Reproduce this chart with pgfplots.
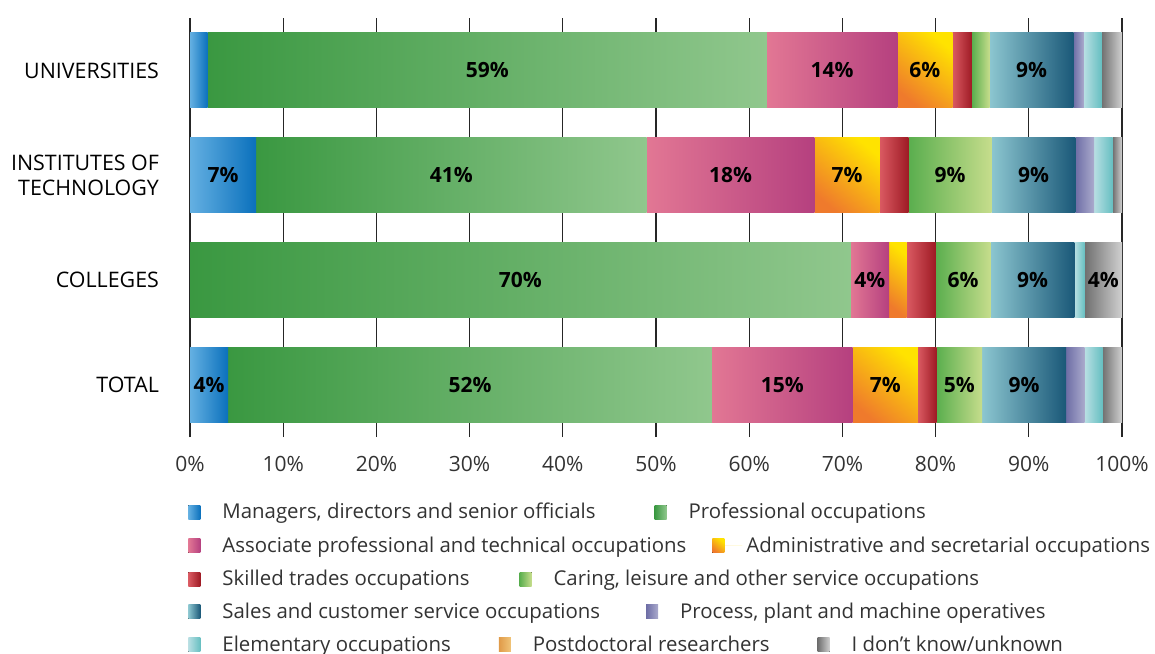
\documentclass[border=0pt]{standalone}
\usepackage{fontspec}
\setmainfont{Open Sans}
\usepackage{pgfplots}
\pgfplotsset{compat=1.18}

% segment colours: left / right of each horizontal gradient
\definecolor{mgrA}{HTML}{64B0E2}\definecolor{mgrB}{HTML}{0A70BC}
\definecolor{proA}{HTML}{3A9841}\definecolor{proB}{HTML}{90C78D}
\definecolor{assA}{HTML}{E27794}\definecolor{assB}{HTML}{B5407F}
\definecolor{admA}{HTML}{EF7A2C}\definecolor{admM}{HTML}{F4AE3C}\definecolor{admB}{HTML}{FFE300}
\definecolor{skiA}{HTML}{DA5A62}\definecolor{skiM}{HTML}{C8163A}\definecolor{skiB}{HTML}{9E1A24}
\definecolor{carA}{HTML}{5AAE4E}\definecolor{carM}{HTML}{A8C844}\definecolor{carB}{HTML}{C6DD8C}
\definecolor{salA}{HTML}{8CC6D0}\definecolor{salB}{HTML}{1A5878}
\definecolor{prcA}{HTML}{6E6EA6}\definecolor{prcB}{HTML}{ABABCD}
\definecolor{eleA}{HTML}{B8DFE3}\definecolor{eleB}{HTML}{66BFC1}
\definecolor{pdrA}{HTML}{E09A48}\definecolor{pdrB}{HTML}{F0C478}
\definecolor{unkA}{HTML}{707070}\definecolor{unkB}{HTML}{D0D0D0}

\tikzset{
  sMgr/.style={draw=none, left color=mgrA, right color=mgrB},
  sPro/.style={draw=none, left color=proA, right color=proB},
  sAss/.style={draw=none, left color=assA, right color=assB},
  sAdm/.style={draw=none, bottom color=admA, middle color=admM, top color=admB, shading angle=-40},
  sSki/.style={draw=none, left color=skiA, middle color=skiM, right color=skiB},
  sCar/.style={draw=none, left color=carA, middle color=carM, right color=carB},
  sSal/.style={draw=none, left color=salA, right color=salB},
  sPrc/.style={draw=none, left color=prcA, right color=prcB},
  sEle/.style={draw=none, left color=eleA, right color=eleB},
  sPdr/.style={draw=none, left color=pdrA, right color=pdrB},
  sUnk/.style={draw=none, left color=unkA, right color=unkB},
}

\pgfplotsset{
  % one axis per category, all on the same frame, so every bar gets its own gradient
  barax/.style={
    at={(95pt,-218.5pt)}, anchor=south west,
    scale only axis, width=466pt, height=209.5pt,
    xbar stacked, bar width=37.5pt,
    xmin=0, xmax=100, ymin=-0.5, ymax=3.5,
    /pgf/number format/assume math mode=true,
    point meta=explicit,
    nodes near coords={\pgfmathfloatifflags{\pgfplotspointmeta}{0}{}{\pgfmathprintnumber{\pgfplotspointmeta}\%}},
    every node near coord/.append style={font=\bfseries\fontsize{10.5}{12}\selectfont, text=black},
  },
  legrow/.style 2 args={
    at={(0pt,-326.5pt)}, anchor=south west,
    scale only axis, width=577.5pt, height=326.5pt,
    hide axis, xmin=0, xmax=1, ymin=0, ymax=1,
    legend columns=-1,
    legend image code/.code={\path (0pt,0pt) -- (15pt,0pt);
      \fill[##1] (0pt,-3.5pt) rectangle (6pt,3.5pt);},
    legend style={at={(0.1628,#1)}, anchor=west, draw=none, fill=none,
      inner sep=0pt, font=\fontsize{10.2}{12}\selectfont, text=black!80,
      /tikz/every even column/.append style={column sep=#2}},
  },
}

\begin{document}
\begin{tikzpicture}
\useasboundingbox (0,0) rectangle (577.5pt,-326.5pt);
\clip (0,0) rectangle (577.5pt,-326.5pt);

% Universities (y=3) + grid, ticks, labels
\begin{axis}[
    barax,
    xtick={0,10,...,100},
    xticklabel={\pgfmathprintnumber{\tick}\%},
    extra x ticks={0}, extra x tick labels={},
    extra x tick style={grid style={black!85, line width=1.1pt}},
    ytick={0,1,2,3},
    yticklabels={TOTAL,COLLEGES,{INSTITUTES OF\\TECHNOLOGY},UNIVERSITIES},
    yticklabel style={align=right, xshift=-12pt, font=\fontsize{10.7}{12.5}\selectfont},
    xticklabel style={yshift=-6pt, font=\fontsize{10.5}{12}\selectfont, text=black!80},
    xmajorgrids, grid style={black!85, line width=0.6pt},
    axis line style={draw=none},
    major tick length=0pt,
  ]
  \addplot[sMgr] coordinates {(1.9,3) [0]};
  \addplot[sPro] coordinates {(60.0,3) [59]};
  \addplot[sAss] coordinates {(14.0,3) [14]};
  \addplot[sAdm] coordinates {(5.9,3) [6]};
  \addplot[sSki] coordinates {(2.1,3) [0]};
  \addplot[sCar] coordinates {(1.9,3) [0]};
  \addplot[sSal] coordinates {(9.0,3) [9]};
  \addplot[sPrc] coordinates {(1.1,3) [0]};
  \addplot[sEle] coordinates {(1.9,3) [0]};
  \addplot[sUnk] coordinates {(2.2,3) [0]};
\end{axis}

% Institutes of technology (y=2)
\begin{axis}[barax, hide axis]
  \addplot[sMgr] coordinates {(7.1,2) [7]};
  \addplot[sPro] coordinates {(41.9,2) [41]};
  \addplot[sAss] coordinates {(18.0,2) [18]};
  \addplot[sAdm] coordinates {(7.0,2) [7]};
  \addplot[sSki] coordinates {(3.1,2) [0]};
  \addplot[sCar] coordinates {(8.9,2) [9]};
  \addplot[sSal] coordinates {(9.0,2) [9]};
  \addplot[sPrc] coordinates {(2.0,2) [0]};
  \addplot[sEle] coordinates {(2.0,2) [0]};
  \addplot[sUnk] coordinates {(1.0,2) [0]};
\end{axis}

% Colleges (y=1); managers and process operatives are 0 here
\begin{axis}[barax, hide axis]
  \addplot[sPro] coordinates {(70.9,1) [70]};
  \addplot[sAss] coordinates {(4.1,1) [4]};
  \addplot[sAdm] coordinates {(1.9,1) [0]};
  \addplot[sSki] coordinates {(3.1,1) [0]};
  \addplot[sCar] coordinates {(5.9,1) [6]};
  \addplot[sSal] coordinates {(9.0,1) [9]};
  \addplot[sEle] coordinates {(1.1,1) [0]};
  \addplot[sUnk] coordinates {(4.0,1) [4]};
\end{axis}

% Total (y=0)
\begin{axis}[barax, hide axis]
  \addplot[sMgr] coordinates {(4.1,0) [4]};
  \addplot[sPro] coordinates {(51.9,0) [52]};
  \addplot[sAss] coordinates {(15.1,0) [15]};
  \addplot[sAdm] coordinates {(7.0,0) [7]};
  \addplot[sSki] coordinates {(2.0,0) [0]};
  \addplot[sCar] coordinates {(4.9,0) [5]};
  \addplot[sSal] coordinates {(9.0,0) [9]};
  \addplot[sPrc] coordinates {(2.0,0) [0]};
  \addplot[sEle] coordinates {(1.9,0) [0]};
  \addplot[sUnk] coordinates {(2.1,0) [0]};
\end{axis}

\begin{axis}[legrow={0.2159}{27.5pt}]
  \addlegendimage{sMgr}\addlegendentry{Managers, directors and senior officials}
  \addlegendimage{sPro}\addlegendentry{Professional occupations}
\end{axis}
\begin{axis}[legrow={0.1639}{11pt}]
  \addlegendimage{sAss}\addlegendentry{Associate professional and technical occupations}
  \addlegendimage{sAdm}\addlegendentry{Administrative and secretarial occupations}
\end{axis}
\begin{axis}[legrow={0.1133}{23pt}]
  \addlegendimage{sSki}\addlegendentry{Skilled trades occupations}
  \addlegendimage{sCar}\addlegendentry{Caring, leisure and other service occupations}
\end{axis}
\begin{axis}[legrow={0.0628}{21pt}]
  \addlegendimage{sSal}\addlegendentry{Sales and customer service occupations}
  \addlegendimage{sPrc}\addlegendentry{Process, plant and machine operatives}
\end{axis}
\begin{axis}[legrow={0.0123}{22pt}]
  \addlegendimage{sEle}\addlegendentry{Elementary occupations}
  \addlegendimage{sPdr}\addlegendentry{Postdoctoral researchers}
  \addlegendimage{sUnk}\addlegendentry{I don't know/unknown}
\end{axis}
\end{tikzpicture}
\end{document}
